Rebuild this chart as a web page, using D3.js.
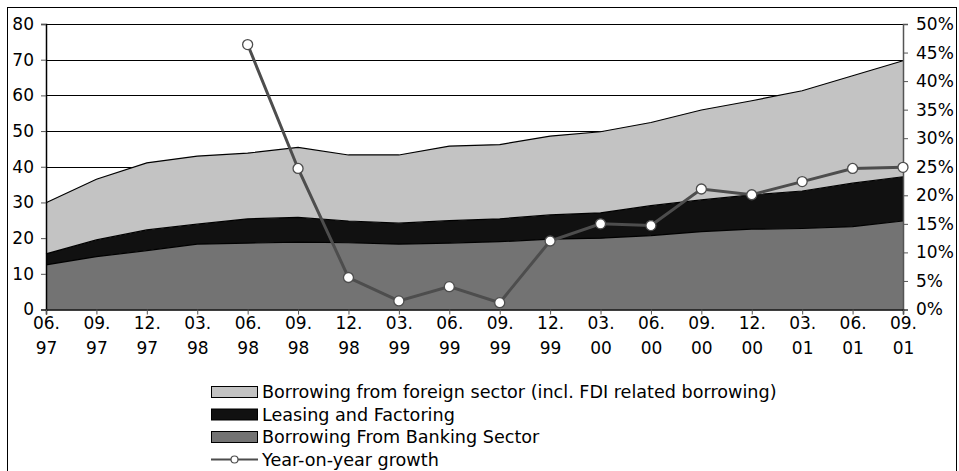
<!DOCTYPE html>
<html>
<head>
<meta charset="utf-8">
<script src="https://cdn.jsdelivr.net/npm/d3@7"></script>
<style>
  body { margin: 0; background: #fff; }
  text { font-family: "DejaVu Sans", Verdana, sans-serif; fill: #000; }
</style>
</head>
<body>
<div class="chart"></div>
<script>
var quarters = ["06.97","09.97","12.97","03.98","06.98","09.98","12.98","03.99","06.99",
                "09.99","12.99","03.00","06.00","09.00","12.00","03.01","06.01","09.01"];

// stacked levels
var banking = [12.5,14.8,16.5,18.3,18.6,18.9,18.7,18.3,18.6,19.0,19.7,20.0,20.7,21.8,22.5,22.7,23.2,24.8];
var leasing = [3.1,4.7,5.8,5.6,6.8,6.9,6.1,5.9,6.3,6.4,6.8,7.1,8.4,8.9,9.6,10.5,12.2,12.4];
var foreign = [14.3,17.0,18.8,19.1,18.4,19.6,18.5,19.1,20.9,20.8,22.1,22.7,23.3,25.2,26.4,28.1,30.1,32.5];

// growth, % (starts at 06.98)
var growth = [null,null,null,null,46.4,24.7,5.6,1.5,4.0,1.2,12.0,15.0,14.7,21.1,20.1,22.4,24.7,24.9];

var leftTicks = [0,10,20,30,40,50,60,70,80];
var rightTicks = [0,5,10,15,20,25,30,35,40,45,50];

var seriesNames = ["Borrowing From Banking Sector", "Leasing and Factoring",
                   "Borrowing from foreign sector (incl. FDI related borrowing)"];
var colors = ["#737373", "#111111", "#c3c3c3"];

var W = 959, H = 471;
var margin = {top: 24, right: 56, bottom: 161.5, left: 46};
var width = W - margin.left - margin.right;
var height = H - margin.top - margin.bottom;

var svg = d3.select(".chart").append("svg")
    .attr("width", W)
    .attr("height", H);

// outer frame
svg.append("rect")
    .attr("x", 7.5).attr("y", 7.5)
    .attr("width", 949).attr("height", H)
    .attr("fill", "none").attr("stroke", "#000");

var g = svg.append("g")
    .attr("transform", "translate(" + margin.left + "," + margin.top + ")");

var x = d3.scalePoint().domain(quarters).range([0, width]);
var y = d3.scaleLinear().domain([0, 80]).range([height, 0]);
var y2 = d3.scaleLinear().domain([0, 50]).range([height, 0]);

// gridlines
g.selectAll(".grid")
    .data(leftTicks.slice(1))
  .enter().append("line")
    .attr("x1", 0).attr("x2", width)
    .attr("y1", function(d){ return Math.round(y(d)) + 0.5; })
    .attr("y2", function(d){ return Math.round(y(d)) + 0.5; })
    .attr("stroke", "#000").attr("stroke-width", 1);

var rows = quarters.map(function(q, i){
  return {q: q, banking: banking[i], leasing: leasing[i], foreign: foreign[i]};
});
var stack = d3.stack().keys(["banking", "leasing", "foreign"]);
var layers = stack(rows);

var area = d3.area()
    .x(function(d){ return x(d.data.q); })
    .y0(function(d){ return y(d[0]); })
    .y1(function(d){ return y(d[1]); });

g.selectAll(".layer")
    .data(layers)
  .enter().append("path")
    .attr("d", area)
    .attr("fill", function(d, i){ return colors[i]; });

var topLine = d3.line()
    .x(function(d){ return x(d.data.q); })
    .y(function(d){ return y(d[1]); });

g.selectAll(".edge")
    .data(layers)
  .enter().append("path")
    .attr("d", topLine)
    .attr("fill", "none")
    .attr("stroke", "#000")
    .attr("stroke-width", 1.2);

// axes
var yAxis = d3.axisLeft(y).tickValues(leftTicks).tickSize(5).tickPadding(7);
var y2Axis = d3.axisRight(y2).tickValues(rightTicks).tickSize(5).tickPadding(8)
    .tickFormat(function(d){ return d + "%"; });
var xAxis = d3.axisBottom(x).tickSize(5).tickFormat("");

var gy = g.append("g").call(yAxis);
var gy2 = g.append("g").attr("transform", "translate(" + width + ",0)").call(y2Axis);
var gx = g.append("g").attr("transform", "translate(0," + height + ")").call(xAxis);

[gy, gy2, gx].forEach(function(a){
  a.select(".domain").attr("stroke", "#000").attr("stroke-width", 1.5);
  a.selectAll(".tick line").attr("stroke", "#555");
  a.selectAll("text").style("font-size", "17px").attr("fill", "#000");
});
gy2.select(".domain").attr("stroke", "#555");

// two-line x labels
gx.selectAll(".tick").append("text")
    .attr("y", 19)
    .attr("text-anchor", "middle")
    .style("font-size", "17px")
    .each(function(d){
      var p = d.split(".");
      var t = d3.select(this);
      t.append("tspan").attr("x", 0).text(p[0] + ".");
      t.append("tspan").attr("x", 0).attr("dy", 25).text(p[1]);
    });

// growth line on right axis
var pts = quarters.map(function(q, i){ return {q: q, v: growth[i]}; })
    .filter(function(d){ return d.v !== null; });

var gLine = d3.line()
    .x(function(d){ return x(d.q); })
    .y(function(d){ return y2(d.v); });

g.append("path")
    .datum(pts)
    .attr("d", gLine)
    .attr("fill", "none")
    .attr("stroke", "#4d4d4d")
    .attr("stroke-width", 3);

g.selectAll(".dot")
    .data(pts)
  .enter().append("circle")
    .attr("cx", function(d){ return x(d.q); })
    .attr("cy", function(d){ return y2(d.v); })
    .attr("r", 5)
    .attr("fill", "#fff")
    .attr("stroke", "#4d4d4d")
    .attr("stroke-width", 1.3);

// legend
var legendItems = [
  {name: seriesNames[2], color: colors[2]},
  {name: seriesNames[1], color: colors[1]},
  {name: seriesNames[0], color: colors[0]},
  {name: "Year-on-year growth", line: true}
];

var legend = svg.append("g").attr("transform", "translate(211,392)");

var li = legend.selectAll(".item")
    .data(legendItems)
  .enter().append("g")
    .attr("transform", function(d, i){ return "translate(0," + (i * 22.5) + ")"; });

li.filter(function(d){ return !d.line; }).append("rect")
    .attr("x", 0.5).attr("y", -5.5)
    .attr("width", 46).attr("height", 11)
    .attr("fill", function(d){ return d.color; })
    .attr("stroke", "#000");

var ll = li.filter(function(d){ return d.line; });
ll.append("line")
    .attr("x1", 0).attr("x2", 47)
    .attr("stroke", "#4d4d4d").attr("stroke-width", 2);
ll.append("circle")
    .attr("cx", 23.5).attr("r", 3.5)
    .attr("fill", "#fff").attr("stroke", "#4d4d4d").attr("stroke-width", 1.2);

li.append("text")
    .attr("x", 51)
    .attr("dy", "0.35em")
    .style("font-size", "17.6px")
    .text(function(d){ return d.name; });
</script>
</body>
</html>
